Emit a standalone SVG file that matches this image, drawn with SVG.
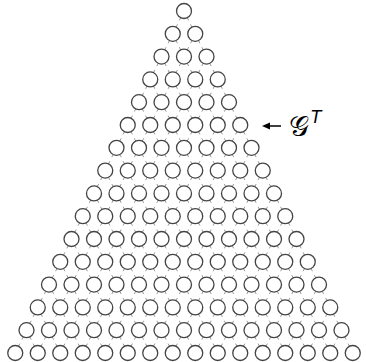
<svg xmlns="http://www.w3.org/2000/svg" xmlns:xlink="http://www.w3.org/1999/xlink" width="366" height="362" viewBox="0 0 366 362">
<style>
.n circle{fill:#fff;stroke:#444;stroke-width:1.3}
.e{fill:none;stroke:#999;stroke-width:1}
.lbl{font-family:"DejaVu Serif",serif;fill:#000}
</style>
<defs>
<path id="e" d="M-3.32 6.73L-4.65 9.42M-6.6 13.38L-7.93 16.07M3.32 6.73L4.65 9.42M6.6 13.38L7.93 16.07"/>
</defs>
<rect width="366" height="362" fill="#fff"/>
<g id="edges" class="e">
<g transform="translate(184,11)"><use href="#e" x="0"/></g>
<g transform="translate(172.75,33.8)"><use href="#e" x="0"/><use href="#e" x="22.5"/></g>
<g transform="translate(161.5,56.6)"><use href="#e" x="0"/><use href="#e" x="22.5"/><use href="#e" x="45"/></g>
<g transform="translate(150.25,79.4)"><use href="#e" x="0"/><use href="#e" x="22.5"/><use href="#e" x="45"/><use href="#e" x="67.5"/></g>
<g transform="translate(139,102.2)"><use href="#e" x="0"/><use href="#e" x="22.5"/><use href="#e" x="45"/><use href="#e" x="67.5"/><use href="#e" x="90"/></g>
<g transform="translate(127.75,125)"><use href="#e" x="0"/><use href="#e" x="22.5"/><use href="#e" x="45"/><use href="#e" x="67.5"/><use href="#e" x="90"/><use href="#e" x="112.5"/></g>
<g transform="translate(116.5,147.8)"><use href="#e" x="0"/><use href="#e" x="22.5"/><use href="#e" x="45"/><use href="#e" x="67.5"/><use href="#e" x="90"/><use href="#e" x="112.5"/><use href="#e" x="135"/></g>
<g transform="translate(105.25,170.6)"><use href="#e" x="0"/><use href="#e" x="22.5"/><use href="#e" x="45"/><use href="#e" x="67.5"/><use href="#e" x="90"/><use href="#e" x="112.5"/><use href="#e" x="135"/><use href="#e" x="157.5"/></g>
<g transform="translate(94,193.4)"><use href="#e" x="0"/><use href="#e" x="22.5"/><use href="#e" x="45"/><use href="#e" x="67.5"/><use href="#e" x="90"/><use href="#e" x="112.5"/><use href="#e" x="135"/><use href="#e" x="157.5"/><use href="#e" x="180"/></g>
<g transform="translate(82.75,216.2)"><use href="#e" x="0"/><use href="#e" x="22.5"/><use href="#e" x="45"/><use href="#e" x="67.5"/><use href="#e" x="90"/><use href="#e" x="112.5"/><use href="#e" x="135"/><use href="#e" x="157.5"/><use href="#e" x="180"/><use href="#e" x="202.5"/></g>
<g transform="translate(71.5,239)"><use href="#e" x="0"/><use href="#e" x="22.5"/><use href="#e" x="45"/><use href="#e" x="67.5"/><use href="#e" x="90"/><use href="#e" x="112.5"/><use href="#e" x="135"/><use href="#e" x="157.5"/><use href="#e" x="180"/><use href="#e" x="202.5"/><use href="#e" x="225"/></g>
<g transform="translate(60.25,261.8)"><use href="#e" x="0"/><use href="#e" x="22.5"/><use href="#e" x="45"/><use href="#e" x="67.5"/><use href="#e" x="90"/><use href="#e" x="112.5"/><use href="#e" x="135"/><use href="#e" x="157.5"/><use href="#e" x="180"/><use href="#e" x="202.5"/><use href="#e" x="225"/><use href="#e" x="247.5"/></g>
<g transform="translate(49,284.6)"><use href="#e" x="0"/><use href="#e" x="22.5"/><use href="#e" x="45"/><use href="#e" x="67.5"/><use href="#e" x="90"/><use href="#e" x="112.5"/><use href="#e" x="135"/><use href="#e" x="157.5"/><use href="#e" x="180"/><use href="#e" x="202.5"/><use href="#e" x="225"/><use href="#e" x="247.5"/><use href="#e" x="270"/></g>
<g transform="translate(37.75,307.4)"><use href="#e" x="0"/><use href="#e" x="22.5"/><use href="#e" x="45"/><use href="#e" x="67.5"/><use href="#e" x="90"/><use href="#e" x="112.5"/><use href="#e" x="135"/><use href="#e" x="157.5"/><use href="#e" x="180"/><use href="#e" x="202.5"/><use href="#e" x="225"/><use href="#e" x="247.5"/><use href="#e" x="270"/><use href="#e" x="292.5"/></g>
<g transform="translate(26.5,330.2)"><use href="#e" x="0"/><use href="#e" x="22.5"/><use href="#e" x="45"/><use href="#e" x="67.5"/><use href="#e" x="90"/><use href="#e" x="112.5"/><use href="#e" x="135"/><use href="#e" x="157.5"/><use href="#e" x="180"/><use href="#e" x="202.5"/><use href="#e" x="225"/><use href="#e" x="247.5"/><use href="#e" x="270"/><use href="#e" x="292.5"/><use href="#e" x="315"/></g>
</g>
<g id="nodes" class="n">
<g id="row0" transform="translate(184,11)"><circle id="n0_0" cx="0" r="7.5"/></g>
<g id="row1" transform="translate(172.75,33.8)"><circle id="n1_0" cx="0" r="7.5"/><circle id="n1_1" cx="22.5" r="7.5"/></g>
<g id="row2" transform="translate(161.5,56.6)"><circle id="n2_0" cx="0" r="7.5"/><circle id="n2_1" cx="22.5" r="7.5"/><circle id="n2_2" cx="45" r="7.5"/></g>
<g id="row3" transform="translate(150.25,79.4)"><circle id="n3_0" cx="0" r="7.5"/><circle id="n3_1" cx="22.5" r="7.5"/><circle id="n3_2" cx="45" r="7.5"/><circle id="n3_3" cx="67.5" r="7.5"/></g>
<g id="row4" transform="translate(139,102.2)"><circle id="n4_0" cx="0" r="7.5"/><circle id="n4_1" cx="22.5" r="7.5"/><circle id="n4_2" cx="45" r="7.5"/><circle id="n4_3" cx="67.5" r="7.5"/><circle id="n4_4" cx="90" r="7.5"/></g>
<g id="row5" transform="translate(127.75,125)"><circle id="n5_0" cx="0" r="7.5"/><circle id="n5_1" cx="22.5" r="7.5"/><circle id="n5_2" cx="45" r="7.5"/><circle id="n5_3" cx="67.5" r="7.5"/><circle id="n5_4" cx="90" r="7.5"/><circle id="n5_5" cx="112.5" r="7.5"/></g>
<g id="row6" transform="translate(116.5,147.8)"><circle id="n6_0" cx="0" r="7.5"/><circle id="n6_1" cx="22.5" r="7.5"/><circle id="n6_2" cx="45" r="7.5"/><circle id="n6_3" cx="67.5" r="7.5"/><circle id="n6_4" cx="90" r="7.5"/><circle id="n6_5" cx="112.5" r="7.5"/><circle id="n6_6" cx="135" r="7.5"/></g>
<g id="row7" transform="translate(105.25,170.6)"><circle id="n7_0" cx="0" r="7.5"/><circle id="n7_1" cx="22.5" r="7.5"/><circle id="n7_2" cx="45" r="7.5"/><circle id="n7_3" cx="67.5" r="7.5"/><circle id="n7_4" cx="90" r="7.5"/><circle id="n7_5" cx="112.5" r="7.5"/><circle id="n7_6" cx="135" r="7.5"/><circle id="n7_7" cx="157.5" r="7.5"/></g>
<g id="row8" transform="translate(94,193.4)"><circle id="n8_0" cx="0" r="7.5"/><circle id="n8_1" cx="22.5" r="7.5"/><circle id="n8_2" cx="45" r="7.5"/><circle id="n8_3" cx="67.5" r="7.5"/><circle id="n8_4" cx="90" r="7.5"/><circle id="n8_5" cx="112.5" r="7.5"/><circle id="n8_6" cx="135" r="7.5"/><circle id="n8_7" cx="157.5" r="7.5"/><circle id="n8_8" cx="180" r="7.5"/></g>
<g id="row9" transform="translate(82.75,216.2)"><circle id="n9_0" cx="0" r="7.5"/><circle id="n9_1" cx="22.5" r="7.5"/><circle id="n9_2" cx="45" r="7.5"/><circle id="n9_3" cx="67.5" r="7.5"/><circle id="n9_4" cx="90" r="7.5"/><circle id="n9_5" cx="112.5" r="7.5"/><circle id="n9_6" cx="135" r="7.5"/><circle id="n9_7" cx="157.5" r="7.5"/><circle id="n9_8" cx="180" r="7.5"/><circle id="n9_9" cx="202.5" r="7.5"/></g>
<g id="row10" transform="translate(71.5,239)"><circle id="n10_0" cx="0" r="7.5"/><circle id="n10_1" cx="22.5" r="7.5"/><circle id="n10_2" cx="45" r="7.5"/><circle id="n10_3" cx="67.5" r="7.5"/><circle id="n10_4" cx="90" r="7.5"/><circle id="n10_5" cx="112.5" r="7.5"/><circle id="n10_6" cx="135" r="7.5"/><circle id="n10_7" cx="157.5" r="7.5"/><circle id="n10_8" cx="180" r="7.5"/><circle id="n10_9" cx="202.5" r="7.5"/><circle id="n10_10" cx="225" r="7.5"/></g>
<g id="row11" transform="translate(60.25,261.8)"><circle id="n11_0" cx="0" r="7.5"/><circle id="n11_1" cx="22.5" r="7.5"/><circle id="n11_2" cx="45" r="7.5"/><circle id="n11_3" cx="67.5" r="7.5"/><circle id="n11_4" cx="90" r="7.5"/><circle id="n11_5" cx="112.5" r="7.5"/><circle id="n11_6" cx="135" r="7.5"/><circle id="n11_7" cx="157.5" r="7.5"/><circle id="n11_8" cx="180" r="7.5"/><circle id="n11_9" cx="202.5" r="7.5"/><circle id="n11_10" cx="225" r="7.5"/><circle id="n11_11" cx="247.5" r="7.5"/></g>
<g id="row12" transform="translate(49,284.6)"><circle id="n12_0" cx="0" r="7.5"/><circle id="n12_1" cx="22.5" r="7.5"/><circle id="n12_2" cx="45" r="7.5"/><circle id="n12_3" cx="67.5" r="7.5"/><circle id="n12_4" cx="90" r="7.5"/><circle id="n12_5" cx="112.5" r="7.5"/><circle id="n12_6" cx="135" r="7.5"/><circle id="n12_7" cx="157.5" r="7.5"/><circle id="n12_8" cx="180" r="7.5"/><circle id="n12_9" cx="202.5" r="7.5"/><circle id="n12_10" cx="225" r="7.5"/><circle id="n12_11" cx="247.5" r="7.5"/><circle id="n12_12" cx="270" r="7.5"/></g>
<g id="row13" transform="translate(37.75,307.4)"><circle id="n13_0" cx="0" r="7.5"/><circle id="n13_1" cx="22.5" r="7.5"/><circle id="n13_2" cx="45" r="7.5"/><circle id="n13_3" cx="67.5" r="7.5"/><circle id="n13_4" cx="90" r="7.5"/><circle id="n13_5" cx="112.5" r="7.5"/><circle id="n13_6" cx="135" r="7.5"/><circle id="n13_7" cx="157.5" r="7.5"/><circle id="n13_8" cx="180" r="7.5"/><circle id="n13_9" cx="202.5" r="7.5"/><circle id="n13_10" cx="225" r="7.5"/><circle id="n13_11" cx="247.5" r="7.5"/><circle id="n13_12" cx="270" r="7.5"/><circle id="n13_13" cx="292.5" r="7.5"/></g>
<g id="row14" transform="translate(26.5,330.2)"><circle id="n14_0" cx="0" r="7.5"/><circle id="n14_1" cx="22.5" r="7.5"/><circle id="n14_2" cx="45" r="7.5"/><circle id="n14_3" cx="67.5" r="7.5"/><circle id="n14_4" cx="90" r="7.5"/><circle id="n14_5" cx="112.5" r="7.5"/><circle id="n14_6" cx="135" r="7.5"/><circle id="n14_7" cx="157.5" r="7.5"/><circle id="n14_8" cx="180" r="7.5"/><circle id="n14_9" cx="202.5" r="7.5"/><circle id="n14_10" cx="225" r="7.5"/><circle id="n14_11" cx="247.5" r="7.5"/><circle id="n14_12" cx="270" r="7.5"/><circle id="n14_13" cx="292.5" r="7.5"/><circle id="n14_14" cx="315" r="7.5"/></g>
<g id="row15" transform="translate(15.25,353)"><circle id="n15_0" cx="0" r="7.5"/><circle id="n15_1" cx="22.5" r="7.5"/><circle id="n15_2" cx="45" r="7.5"/><circle id="n15_3" cx="67.5" r="7.5"/><circle id="n15_4" cx="90" r="7.5"/><circle id="n15_5" cx="112.5" r="7.5"/><circle id="n15_6" cx="135" r="7.5"/><circle id="n15_7" cx="157.5" r="7.5"/><circle id="n15_8" cx="180" r="7.5"/><circle id="n15_9" cx="202.5" r="7.5"/><circle id="n15_10" cx="225" r="7.5"/><circle id="n15_11" cx="247.5" r="7.5"/><circle id="n15_12" cx="270" r="7.5"/><circle id="n15_13" cx="292.5" r="7.5"/><circle id="n15_14" cx="315" r="7.5"/><circle id="n15_15" cx="337.5" r="7.5"/></g>
</g>
<g id="label">
<line x1="281" y1="126" x2="268" y2="126" stroke="#000" stroke-width="1.5"/>
<polygon points="262,126 270,122.5 270,129.5" fill="#000"/>
<text class="lbl" x="289" y="136" font-size="28">𝒢<tspan font-family="'DejaVu Sans',sans-serif" font-size="17" dx="2" dy="-13" font-style="italic">T</tspan></text>
</g>
</svg>
